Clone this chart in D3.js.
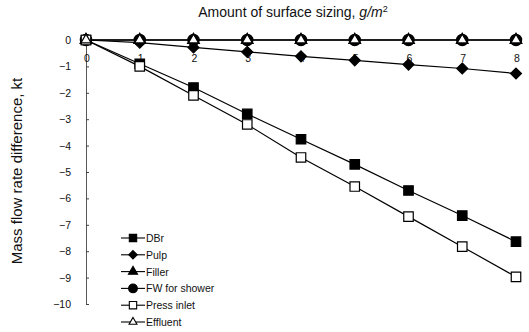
<!DOCTYPE html>
<html>
<head>
<meta charset="utf-8">
<script src="https://cdn.jsdelivr.net/npm/d3@7/dist/d3.min.js"></script>
<style>
  html, body { margin: 0; padding: 0; background: #fff; }
  svg { display: block; font-family: "Liberation Sans", Arial, sans-serif; }
</style>
</head>
<body>
<svg id="chart" width="529" height="332"></svg>
<script>
// Amount of surface sizing (g/m²)
const sizing = [0, 1, 2, 3, 4, 5, 6, 7, 8];

// Mass flow rate difference for each stream
const dbr        = [0, -0.9, -1.8, -2.8, -3.76, -4.71, -5.7, -6.65, -7.64];
const pulp       = [0, -0.1, -0.28, -0.45, -0.62, -0.77, -0.93, -1.08, -1.27];
const filler     = [0, 0, 0, 0, 0, 0, 0, 0, 0];
const fwShower   = [0, 0, 0, 0, 0, 0, 0, 0, 0];
const pressInlet = [0, -1.0, -2.1, -3.2, -4.45, -5.55, -6.69, -7.83, -8.97];
const effluent   = [0, 0, 0, 0, 0, 0, 0, 0, 0];

const seriesNames = ["DBr", "Pulp", "Filler", "FW for shower", "Press inlet", "Effluent"];
const yTicks = [0, -1, -2, -3, -4, -5, -6, -7, -8, -9, -10];

// A diamond that is as wide as it is tall (a square turned 45°)
const wideDiamond = {
  draw(ctx, size) {
    const r = Math.sqrt(size / 2);
    ctx.moveTo(0, -r); ctx.lineTo(r, 0); ctx.lineTo(0, r); ctx.lineTo(-r, 0); ctx.closePath();
  }
};

const series = [
  { name: seriesNames[0], values: dbr,        symbol: d3.symbolSquare,   size: 90, fill: "#000" },
  { name: seriesNames[1], values: pulp,       symbol: wideDiamond,       size: 60, fill: "#000" },
  { name: seriesNames[2], values: filler,     symbol: d3.symbolTriangle, size: 60, fill: "#000" },
  { name: seriesNames[3], values: fwShower,   symbol: d3.symbolCircle,   size: 100, fill: "#000" },
  { name: seriesNames[4], values: pressInlet, symbol: d3.symbolSquare,   size: 90, fill: "#fff" },
  { name: seriesNames[5], values: effluent,   symbol: d3.symbolTriangle, size: 45, fill: "#fff" }
];

const svg = d3.select("#chart");
const x = d3.scaleLinear().domain([0, 8]).range([86, 516]);
const y = d3.scaleLinear().domain([0, -10]).range([40, 304]);

// Title above the plot
svg.append("text")
  .attr("x", 293).attr("y", 17)
  .attr("text-anchor", "middle")
  .attr("font-size", 14)
  .attr("fill", "#111")
  .html('Amount of surface sizing, <tspan font-style="italic">g/m</tspan><tspan font-size="9" dy="-5">2</tspan>');

// Y axis title
svg.append("text")
  .attr("transform", "translate(22,171) rotate(-90)")
  .attr("text-anchor", "middle")
  .attr("font-size", 15)
  .attr("fill", "#111")
  .text("Mass flow rate difference, kt");

// Y axis: vertical line with inward ticks
const yAxis = d3.axisRight(y).tickValues(yTicks).tickSize(3).tickFormat("");
const gy = svg.append("g").attr("transform", "translate(86,0)").call(yAxis);
gy.select(".domain").attr("stroke", "#444").attr("stroke-width", 0.9);
gy.selectAll(".tick line").attr("stroke", "#444");

svg.append("g").selectAll("text")
  .data(yTicks)
  .join("text")
  .attr("x", 71)
  .attr("y", d => y(d) + 4)
  .attr("text-anchor", "end")
  .attr("font-size", 10.5)
  .attr("fill", "#111")
  .text(d => d === 0 ? "0" : "\u2212" + Math.abs(d));

// X tick labels sit just below the zero line
svg.append("g").selectAll("text")
  .data(sizing)
  .join("text")
  .attr("x", d => x(d) + 1)
  .attr("y", 62)
  .attr("text-anchor", "middle")
  .attr("font-size", 10.5)
  .attr("fill", "#111")
  .text(d => d);

const line = d3.line().x((d, i) => x(sizing[i])).y(d => y(d));

series.forEach(s => {
  svg.append("path")
    .datum(s.values)
    .attr("d", line)
    .attr("fill", "none")
    .attr("stroke", "#000")
    .attr("stroke-width", 1.2);
});

series.forEach(s => {
  svg.append("g").selectAll("path")
    .data(s.values)
    .join("path")
    .attr("transform", (d, i) => `translate(${x(sizing[i])},${y(d)})`)
    .attr("d", d3.symbol().type(s.symbol).size(s.size))
    .attr("fill", s.fill)
    .attr("stroke", "#000")
    .attr("stroke-width", 1.2);
});

// Legend
const legend = svg.append("g");
series.forEach((s, i) => {
  const ly = 238 + i * 16.8;
  legend.append("line")
    .attr("x1", 121).attr("x2", 145)
    .attr("y1", ly).attr("y2", ly)
    .attr("stroke", "#000").attr("stroke-width", 1.1);
  legend.append("path")
    .attr("transform", `translate(133,${ly})`)
    .attr("d", d3.symbol().type(s.symbol).size(s.size * 0.6))
    .attr("fill", s.fill)
    .attr("stroke", "#000")
    .attr("stroke-width", 1.1);
  legend.append("text")
    .attr("x", 146).attr("y", ly + 4)
    .attr("font-size", 10.5)
    .attr("fill", "#111")
    .text(s.name);
});
</script>
</body>
</html>
